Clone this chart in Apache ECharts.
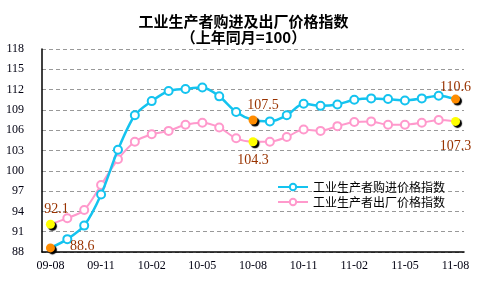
<!DOCTYPE html>
<html><head><meta charset="utf-8">
<script src="https://cdn.jsdelivr.net/npm/echarts@6/dist/echarts.min.js"></script>
<style>html,body{margin:0;padding:0;background:#fff;}#c{width:487px;height:281px;}</style>
</head><body><div id="c"></div>
<script>
var categories = ['09-08','09-09','09-10','09-11','09-12','10-01','10-02','10-03','10-04','10-05','10-06','10-07','10-08','10-09','10-10','10-11','10-12','11-01','11-02','11-03','11-04','11-05','11-06','11-07','11-08'];
var purchaseValues = [88.6,89.9,91.9,96.5,103.1,108.2,110.3,111.8,112.1,112.3,111.0,108.7,107.5,107.3,108.2,109.9,109.6,109.8,110.5,110.7,110.6,110.4,110.7,111.1,110.6];
var outputValues = [92.1,93.0,94.2,97.9,101.7,104.3,105.4,105.9,106.8,107.1,106.4,104.8,104.3,104.3,105.0,106.1,105.9,106.6,107.2,107.3,106.8,106.8,107.1,107.5,107.3];
var purchaseName = '工业生产者购进价格指数';
var outputName = '工业生产者出厂价格指数';
var yTicks = [88,91,94,97,100,103,106,109,112,115,118];
var highlightIdx = [0, 12, 24];

var labelFont = {color:'#993300', fontSize:14, fontFamily:'Liberation Serif'};
var purchaseLabels = {0:{position:'right', distance:15, offset:[0,-2]}, 12:{position:'top', offset:[10,2]}, 24:{position:'top', offset:[0,5]}};
var outputLabels = {0:{position:'top', offset:[6,2]}, 12:{position:'bottom', offset:[0,2]}, 24:{position:'bottom', offset:[0,8]}};

function build(vals, dotColor, labels){
  return vals.map(function(v,i){
    if (highlightIdx.indexOf(i) < 0) return v;
    var l = labels[i];
    return {
      value: v,
      symbol: 'circle',
      symbolSize: 9,
      itemStyle: {color: dotColor, borderWidth: 0, shadowColor:'#000', shadowBlur:1, shadowOffsetX:2, shadowOffsetY:2},
      label: Object.assign({show:true, formatter: String(v)}, labelFont, l)
    };
  });
}

var chart = echarts.init(document.getElementById('c'));
chart.setOption({
  animation: false,
  backgroundColor: '#fff',
  title: {
    text: '工业生产者购进及出厂价格指数\n（上年同月=100）',
    left: 'center', top: 8,
    textStyle: {fontFamily:'Noto Sans CJK SC', fontSize:15, fontWeight:'bold', color:'#000', lineHeight:16}
  },
  legend: {
    orient: 'vertical', left: 272, top: 176, itemGap: 3, itemWidth: 30, itemHeight: 8,
    textStyle: {fontFamily:'Noto Sans CJK SC', fontSize:12, color:'#000'},
    data: [purchaseName, outputName]
  },
  grid: {left: 42, right: 23, top: 49, bottom: 29},
  xAxis: {
    type: 'category', data: categories, boundaryGap: true,
    axisLine: {lineStyle:{color:'#000', width:1.5}},
    axisTick: {inside:true, length:3, lineStyle:{color:'#000'}},
    axisLabel: {interval: 2, color:'#001', fontSize:12, fontFamily:'Liberation Serif', margin:8}
  },
  yAxis: {
    type: 'value', min: yTicks[0], max: yTicks[yTicks.length-1], interval: 3,
    axisLine: {show:true, lineStyle:{color:'#000', width:1.5}},
    axisTick: {show:false},
    axisLabel: {color:'#001', fontSize:12, fontFamily:'Liberation Serif', margin:18},
    splitLine: {lineStyle:{color:'#999', type:[4,3]}}
  },
  series: [
    {
      name: purchaseName, type: 'line', smooth: 0.3,
      symbol: 'emptyCircle', symbolSize: 8,
      lineStyle: {color:'#14C3EF', width:2.5},
      itemStyle: {color:'#14C3EF', borderWidth:1},
      data: build(purchaseValues, '#FF8C00', purchaseLabels),
      z: 3
    },
    {
      name: outputName, type: 'line', smooth: 0.3,
      symbol: 'emptyCircle', symbolSize: 8,
      lineStyle: {color:'#FF99CC', width:2},
      itemStyle: {color:'#FF99CC', borderWidth:1},
      data: build(outputValues, '#FFFF00', outputLabels),
      z: 2
    }
  ]
});
</script></body></html>
